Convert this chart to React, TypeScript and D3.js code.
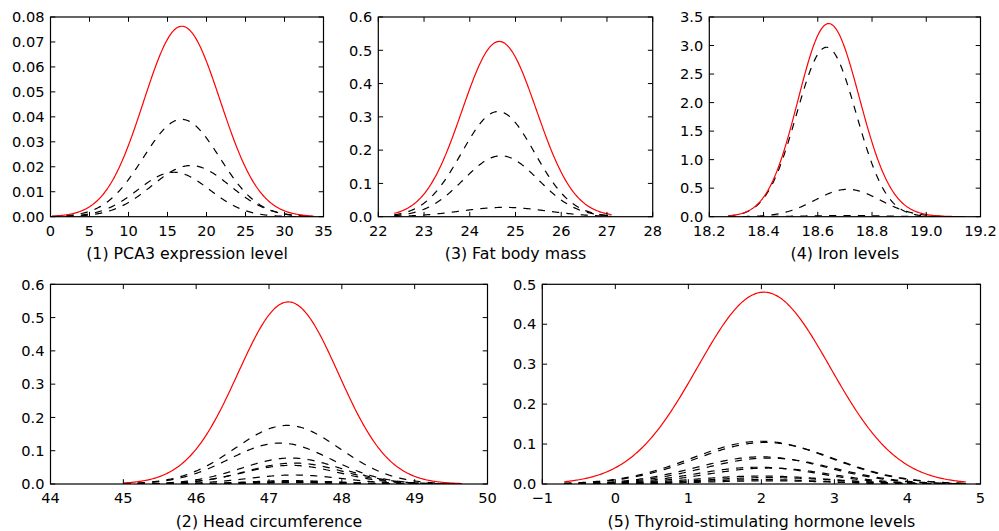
import { useEffect, useRef } from 'react';
import * as d3 from 'd3';

// Gaussian mixture components: peak height, mean, sd
const pcaPeaks = [0.039, 0.0205, 0.0178];
const pcaMeans = [16.8, 18.0, 15.8];
const pcaSds = [4.9, 5.0, 4.6];

const fatPeaks = [0.316, 0.183, 0.028];
const fatMeans = [24.62, 24.68, 24.75];
const fatSds = [0.8, 0.82, 0.95];

const ironPeaks = [2.97, 0.48, 0.02];
const ironMeans = [18.632, 18.71, 18.7];
const ironSds = [0.11, 0.12, 0.15];

const headPeaks = [0.176, 0.123, 0.078, 0.063, 0.056, 0.027, 0.01, 0.008, 0.005, 0.004];
const headMeans = [47.25, 47.15, 47.3, 47.35, 47.3, 47.35, 47.3, 47.4, 47.3, 47.4];
const headSds = [0.72, 0.7, 0.68, 0.66, 0.66, 0.65, 0.62, 0.62, 0.6, 0.6];

const tshPeaks = [0.107, 0.104, 0.068, 0.065, 0.042, 0.04, 0.02, 0.016, 0.011, 0.008];
const tshMeans = [2.0, 2.05, 2.0, 2.1, 1.95, 2.1, 2.0, 2.1, 2.0, 2.1];
const tshSds = [0.95, 0.95, 0.9, 0.9, 0.85, 0.85, 0.9, 0.9, 0.85, 0.85];

// data extents of the drawn curves
const pcaRange = [0.2, 33.7];
const fatRange = [22.35, 27.1];
const ironRange = [18.27, 19.14];
const headRange = [45.0, 49.65];
const tshRange = [-0.7, 4.8];

// tick labels
const pcaXTicks = ['0', '5', '10', '15', '20', '25', '30', '35'];
const pcaYTicks = ['0.00', '0.01', '0.02', '0.03', '0.04', '0.05', '0.06', '0.07', '0.08'];
const fatXTicks = ['22', '23', '24', '25', '26', '27', '28'];
const fatYTicks = ['0.0', '0.1', '0.2', '0.3', '0.4', '0.5', '0.6'];
const ironXTicks = ['18.2', '18.4', '18.6', '18.8', '19.0', '19.2'];
const ironYTicks = ['0.0', '0.5', '1.0', '1.5', '2.0', '2.5', '3.0', '3.5'];
const headXTicks = ['44', '45', '46', '47', '48', '49', '50'];
const headYTicks = ['0.0', '0.1', '0.2', '0.3', '0.4', '0.5', '0.6'];
const tshXTicks = ['-1', '0', '1', '2', '3', '4', '5'];
const tshYTicks = ['0.0', '0.1', '0.2', '0.3', '0.4', '0.5'];

const panels = [
  { title: '(1) PCA3 expression level', peaks: pcaPeaks, means: pcaMeans, sds: pcaSds, range: pcaRange, xt: pcaXTicks, yt: pcaYTicks, box: [50.5, 17, 323.5, 216.7] },
  { title: '(3) Fat body mass', peaks: fatPeaks, means: fatMeans, sds: fatSds, range: fatRange, xt: fatXTicks, yt: fatYTicks, box: [378.3, 17, 652.7, 216.7] },
  { title: '(4) Iron levels', peaks: ironPeaks, means: ironMeans, sds: ironSds, range: ironRange, xt: ironXTicks, yt: ironYTicks, box: [709.3, 17, 980.5, 216.7] },
  { title: '(2) Head circumference', peaks: headPeaks, means: headMeans, sds: headSds, range: headRange, xt: headXTicks, yt: headYTicks, box: [50.5, 284.3, 487.5, 484] },
  { title: '(5) Thyroid-stimulating hormone levels', peaks: tshPeaks, means: tshMeans, sds: tshSds, range: tshRange, xt: tshXTicks, yt: tshYTicks, box: [542.3, 284.3, 980.5, 484] },
];

const FONT = '"DejaVu Sans", sans-serif';

const App = () => {
  const svgRef = useRef(null);

  useEffect(() => {
    const svg = d3.select(svgRef.current);
    svg.selectAll('*').remove();

    panels.forEach((p, pi) => {
      const [x0, y0, x1, y1] = p.box;
      const xv = p.xt.map(Number);
      const yv = p.yt.map(Number);
      const x = d3.scaleLinear().domain([xv[0], xv[xv.length - 1]]).range([x0, x1]);
      const y = d3.scaleLinear().domain([yv[0], yv[yv.length - 1]]).range([y1, y0]);
      const g = svg.append('g');

      const comp = (i, t) => p.peaks[i] * Math.exp(-((t - p.means[i]) ** 2) / (2 * p.sds[i] ** 2));
      const xs = d3.range(300).map(k => p.range[0] + (p.range[1] - p.range[0]) * k / 299);
      const line = d3.line().x(d => x(d[0])).y(d => y(d[1]));

      const clip = 'clip-panel-' + pi;
      svg.append('clipPath').attr('id', clip)
        .append('rect').attr('x', x0).attr('y', y0).attr('width', x1 - x0).attr('height', y1 - y0);
      const plot = g.append('g').attr('clip-path', `url(#${clip})`);

      // dashed components
      p.peaks.forEach((_, i) => {
        plot.append('path')
          .attr('d', line(xs.map(t => [t, comp(i, t)])))
          .attr('fill', 'none')
          .attr('stroke', 'black')
          .attr('stroke-width', 1.2)
          .attr('stroke-dasharray', '7.2,7.2');
      });
      // red mixture total
      plot.append('path')
        .attr('d', line(xs.map(t => [t, d3.sum(p.peaks, (_, i) => comp(i, t))])))
        .attr('fill', 'none')
        .attr('stroke', '#ff0000')
        .attr('stroke-width', 1.2);

      // frame
      g.append('rect')
        .attr('x', x0).attr('y', y0).attr('width', x1 - x0).attr('height', y1 - y0)
        .attr('fill', 'none').attr('stroke', 'black').attr('stroke-width', 1.2);

      // ticks, inward on all four sides
      const tl = 4.8;
      xv.forEach((v, i) => {
        const px = x(v);
        g.append('line').attr('x1', px).attr('x2', px).attr('y1', y1).attr('y2', y1 - tl).attr('stroke', 'black');
        g.append('line').attr('x1', px).attr('x2', px).attr('y1', y0).attr('y2', y0 + tl).attr('stroke', 'black');
        g.append('text')
          .attr('x', px).attr('y', y1 + 19)
          .attr('text-anchor', 'middle')
          .style('font-family', FONT).style('font-size', '14.6px')
          .text(p.xt[i].replace('-', '\u2212'));
      });
      yv.forEach((v, i) => {
        const py = y(v);
        g.append('line').attr('x1', x0).attr('x2', x0 + tl).attr('y1', py).attr('y2', py).attr('stroke', 'black');
        g.append('line').attr('x1', x1).attr('x2', x1 - tl).attr('y1', py).attr('y2', py).attr('stroke', 'black');
        g.append('text')
          .attr('x', x0 - 6).attr('y', py).attr('dy', '0.36em')
          .attr('text-anchor', 'end')
          .style('font-family', FONT).style('font-size', '14.6px')
          .text(p.yt[i]);
      });

      g.append('text')
        .attr('x', (x0 + x1) / 2).attr('y', y1 + 42.5)
        .attr('text-anchor', 'middle')
        .style('font-family', FONT).style('font-size', '15.8px')
        .text(p.title);
    });
  }, []);

  return (
    <svg ref={svgRef} width={999} height={531}
      style={{ position: 'absolute', left: 0, top: 0, background: 'white' }} />
  );
};

export default App;
